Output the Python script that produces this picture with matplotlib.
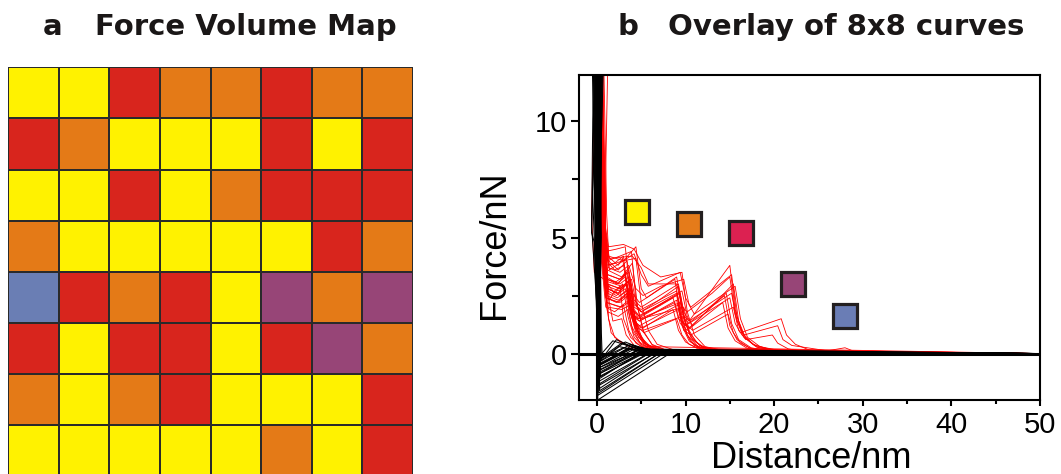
import matplotlib
matplotlib.use("Agg")
import matplotlib.pyplot as plt
from matplotlib.colors import ListedColormap
import numpy as np

# force volume map: 0 yellow, 1 orange, 2 red, 3 purple, 4 blue
map_colors = ["#FFF200", "#E47A17", "#D8251D", "#974577", "#6A7EB4"]
fv_map = [
    [0, 0, 2, 1, 1, 2, 1, 1],
    [2, 1, 0, 0, 0, 2, 0, 2],
    [0, 0, 2, 0, 1, 2, 2, 2],
    [1, 0, 0, 0, 0, 0, 2, 1],
    [4, 2, 1, 2, 0, 3, 1, 3],
    [2, 0, 2, 2, 0, 2, 3, 1],
    [1, 0, 1, 2, 0, 0, 0, 2],
    [0, 0, 0, 0, 0, 1, 0, 2],
]

# legend squares in panel b (x nm, y nN)
key_x = [4.5, 10.4, 16.3, 22.1, 28.0]
key_y = [6.1, 5.6, 5.2, 3.0, 1.6]
key_colors = ["#FFF200", "#E57B1A", "#DC2151", "#974577", "#6A7DB5"]

# approach curves (black), (distance nm, force nN)
approach = [
    [(0.1, 12), (0.0, 6), (0.2, 1.2), (0.3, -0.6), (4.5, 0.1), (8, 0.03), (50, 0)],
    [(-0.2, 12), (-0.1, 7), (0.1, 1.5), (0.2, -1.0), (5.5, 0.05), (50, 0)],
    [(0.3, 12), (0.2, 6), (0.3, 1.0), (0.4, -0.4), (3.5, 0.2), (6, 0.05), (50, 0)],
    [(-0.4, 12), (-0.5, 9), (-0.6, 5.5), (0.0, 2.0), (0.1, -1.4), (6.5, 0.0), (50, 0)],
    [(0.5, 12), (0.3, 7), (0.4, 1.4), (0.5, -0.3), (2.5, 0.3), (5, 0.1), (50, 0)],
    [(0.0, 12), (-0.2, 8), (0.0, 2.2), (0.1, -2.0), (8, -0.05), (12, 0), (50, 0)],
    [(0.2, 12), (0.1, 6.5), (0.2, 1.8), (0.3, -0.8), (5.0, 0.1), (50, 0)],
    [(-0.3, 12), (-0.4, 10), (-0.2, 6), (0.1, 1.2), (0.2, -0.5), (4.0, 0.35), (6.5, 0.1), (50, 0)],
    [(0.6, 12), (0.4, 6), (0.3, 1.0), (0.4, -0.2), (3.0, 0.25), (6, 0.05), (50, 0)],
    [(0.1, 12), (-0.1, 5.0), (0.1, 1.5), (0.2, -1.2), (6.0, 0.05), (50, 0)],
    [(-0.1, 12), (0.0, 7.5), (0.2, 1.6), (0.3, -0.7), (4.8, 0.2), (7, 0.05), (50, 0)],
    [(0.4, 12), (0.3, 8), (0.2, 2.0), (0.3, -1.6), (7.0, 0.0), (50, 0)],
    [(0.0, 12), (0.1, 6), (0.2, 0.8), (0.3, -0.35), (3.8, 0.4), (6.0, 0.15), (9, 0.03), (50, 0)],
    [(-0.5, 12), (-0.3, 9), (-0.6, 5.2), (-0.3, 4.8), (0.0, 1.4), (0.1, -0.9), (5.5, 0.1), (50, 0)],
    [(0.3, 12), (0.1, 7), (0.2, 1.3), (0.3, -0.5), (4.2, 0.3), (7, 0.06), (50, 0)],
    [(0.2, 12), (0.2, 6), (0.1, 1.8), (0.2, -1.1), (5.2, 0.12), (50, 0)],
    [(-0.2, 12), (-0.1, 6), (0.1, 1.0), (0.2, -0.25), (2.8, 0.45), (5.5, 0.1), (50, 0)],
    [(0.7, 12), (0.4, 8), (0.3, 1.6), (0.4, -0.7), (4.6, 0.05), (50, 0)],
    [(0.0, 12), (-0.1, 6), (0.0, 2.0), (0.1, -1.8), (7.6, 0.02), (50, 0)],
    [(0.1, 12), (0.2, 7), (0.3, 1.1), (0.4, -0.45), (3.6, 0.2), (6, 0.05), (50, 0)],
    [(-0.3, 12), (-0.2, 7), (0.0, 1.6), (0.2, -0.9), (5.0, 0.25), (8, 0.05), (50, 0)],
    [(0.2, 12), (0.0, 5.5), (0.2, 1.3), (0.3, -0.6), (4.0, 0.15), (50, 0)],
    [(0.5, 12), (0.3, 6), (0.2, 1.7), (0.3, -1.3), (6.2, 0.08), (50, 0)],
    [(-0.1, 12), (0.1, 8), (0.1, 1.2), (0.2, -0.3), (3.2, 0.5), (5.6, 0.12), (50, 0)],
    [(0.4, 12), (0.5, 9), (0.4, 4), (0.5, 0.9), (0.6, -0.2), (2.2, 0.6), (4.5, 0.2), (50, 0)],
    [(-0.4, 12), (-0.2, 10.5), (-0.5, 7), (-0.1, 3), (0.1, 0.5), (0.2, -1.7), (7.2, 0.05), (50, 0)],
    [(0.6, 12), (0.3, 9.5), (0.5, 5), (0.3, 1.4), (0.4, -1.0), (5.8, 0.18), (50, 0)],
    [(-0.2, 12), (0.1, 9), (-0.1, 4), (0.0, 1.0), (0.1, -0.55), (4.4, 0.3), (7, 0.04), (50, 0)],
    [(0.2, 12), (0.4, 8.5), (0.1, 3.5), (0.2, 0.6), (0.3, -1.5), (6.8, 0.1), (50, 0)],
    [(0.0, 12), (-0.3, 8), (-0.2, 4.5), (0.1, 1.1), (0.2, -0.15), (1.8, 0.55), (5.0, 0.15), (50, 0)],
]

# retraction curves (red): one, two, three rupture events and longer ones
retract_one = [
    [(0.4, 12), (0.7, 6.0), (1.0, 4.4), (2.2, 4.5), (3.2, 4.6), (3.8, 2.4), (4.6, 1.0), (5.6, 0.4), (7.5, 0.15), (12, 0.05), (50, 0)],
    [(0.3, 12), (0.6, 5.5), (1.0, 3.8), (2.0, 3.9), (3.0, 4.2), (3.6, 2.0), (4.4, 0.9), (5.4, 0.35), (7, 0.12), (12, 0.04), (50, 0)],
    [(0.5, 12), (0.8, 5.0), (1.1, 3.3), (2.4, 3.0), (3.4, 3.5), (4.0, 1.8), (4.8, 0.8), (5.8, 0.3), (7.5, 0.1), (50, 0)],
    [(0.2, 12), (0.6, 5.2), (1.2, 3.0), (2.0, 2.6), (2.9, 3.0), (3.5, 1.6), (4.2, 0.7), (5.2, 0.3), (7, 0.1), (50, 0)],
    [(0.4, 12), (0.9, 4.6), (1.3, 2.8), (2.6, 2.5), (3.6, 2.8), (4.2, 1.4), (5.0, 0.6), (6.0, 0.25), (8, 0.08), (50, 0)],
    [(0.3, 12), (0.7, 4.2), (1.1, 2.4), (2.2, 2.2), (3.3, 2.5), (3.9, 1.2), (4.8, 0.5), (6.0, 0.2), (8, 0.06), (50, 0)],
    [(0.6, 12), (0.9, 4.8), (1.2, 3.6), (2.8, 3.3), (4.0, 3.9), (4.6, 2.0), (5.3, 0.9), (6.3, 0.35), (8, 0.12), (50, 0)],
    [(0.2, 12), (0.5, 4.0), (1.0, 2.0), (2.0, 1.8), (3.0, 2.1), (3.6, 1.0), (4.4, 0.45), (5.6, 0.18), (8, 0.05), (50, 0)],
    [(0.4, 12), (0.8, 5.8), (1.2, 4.2), (2.4, 3.8), (2.9, 4.1), (3.5, 2.5), (4.3, 1.1), (5.3, 0.45), (7, 0.15), (50, 0)],
    [(0.5, 12), (0.8, 4.4), (1.2, 2.9), (2.5, 2.7), (3.7, 3.2), (4.3, 1.5), (5.1, 0.65), (6.2, 0.25), (8.5, 0.08), (50, 0)],
    [(0.3, 12), (0.7, 3.6), (1.2, 1.8), (2.4, 1.6), (3.5, 1.9), (4.1, 0.9), (5.0, 0.4), (6.2, 0.15), (50, 0)],
    [(0.6, 12), (1.0, 5.0), (1.3, 3.9), (2.0, 3.6), (3.1, 3.8), (3.7, 2.2), (4.5, 1.0), (5.5, 0.4), (7.5, 0.12), (50, 0)],
    [(1.2, 12), (1.0, 8), (0.9, 5.2), (1.2, 4.0), (2.6, 4.2), (3.9, 4.4), (4.4, 2.3), (5.2, 1.0), (6.2, 0.4), (8, 0.12), (50, 0)],
    [(0.3, 12), (-0.4, 9.5), (-0.6, 6), (-0.3, 3.5), (0.8, 3.2), (2.2, 3.1), (3.2, 3.4), (3.8, 1.7), (4.7, 0.7), (5.8, 0.3), (50, 0)],
    [(0.6, 12), (0.9, 5.5), (1.1, 2.0), (1.6, 0.9), (2.6, 0.5), (4, 0.25), (6, 0.1), (50, 0)],
    [(0.7, 12), (1.0, 4.8), (1.3, 1.5), (2.0, 0.7), (3.4, 0.35), (5.5, 0.12), (50, 0)],
    [(0.5, 12), (0.8, 5.2), (1.2, 2.6), (1.8, 1.4), (2.8, 1.5), (3.3, 0.8), (4.2, 0.35), (6, 0.1), (50, 0)],
    [(0.8, 12), (1.1, 6.0), (1.4, 3.6), (3.0, 4.0), (4.4, 4.1), (5.0, 2.2), (5.8, 1.0), (6.8, 0.4), (9, 0.12), (50, 0)],
    [(0.6, 12), (1.0, 4.0), (1.4, 2.3), (2.0, 2.7), (2.6, 2.9), (3.0, 1.5), (3.8, 0.7), (5.0, 0.3), (7, 0.08), (50, 0)],
]
retract_two = [
    [(0.4, 12), (0.8, 5.0), (1.2, 3.4), (2.6, 3.2), (3.6, 3.6), (4.2, 2.2), (5.0, 1.8), (7.0, 2.3), (9.2, 2.9), (9.8, 1.5), (10.6, 0.7), (11.8, 0.3), (14, 0.1), (50, 0)],
    [(0.3, 12), (0.7, 4.4), (1.1, 2.8), (2.4, 2.6), (3.4, 3.0), (4.0, 1.7), (4.8, 1.4), (9.0, 2.3), (9.6, 1.2), (10.4, 0.55), (11.6, 0.22), (14, 0.08), (50, 0)],
    [(0.5, 12), (0.9, 5.6), (1.3, 4.6), (3.0, 4.7), (4.2, 4.5), (5.2, 3.8), (7.2, 3.3), (9.6, 3.5), (10.2, 1.8), (11.0, 0.8), (12.2, 0.3), (15, 0.08), (50, 0)],
    [(0.2, 12), (0.6, 4.0), (1.0, 2.4), (2.6, 2.2), (3.8, 2.6), (4.4, 1.3), (5.2, 1.1), (8.6, 1.9), (9.2, 1.0), (10.0, 0.5), (11.4, 0.2), (50, 0)],
    [(0.4, 12), (0.8, 4.8), (1.2, 3.2), (2.2, 3.0), (3.2, 3.3), (3.8, 2.0), (4.6, 1.6), (9.4, 2.6), (10.0, 1.3), (10.8, 0.6), (12.0, 0.25), (14.5, 0.08), (50, 0)],
    [(0.3, 12), (0.7, 3.8), (1.1, 2.2), (2.8, 2.0), (3.9, 2.3), (4.5, 1.2), (5.3, 0.9), (9.0, 1.5), (9.6, 0.8), (10.4, 0.4), (12, 0.15), (50, 0)],
    [(0.5, 12), (0.9, 5.2), (1.3, 4.0), (2.4, 3.6), (3.4, 4.0), (4.0, 2.6), (4.8, 2.2), (8.8, 3.2), (9.4, 1.7), (10.2, 0.8), (11.4, 0.3), (14, 0.1), (50, 0)],
    [(0.3, 12), (0.7, 4.6), (1.1, 3.0), (2.6, 2.8), (3.6, 3.1), (4.2, 1.9), (5.0, 1.5), (9.8, 2.0), (10.4, 1.0), (11.2, 0.5), (12.4, 0.2), (50, 0)],
    [(0.4, 12), (0.8, 4.2), (1.2, 2.6), (2.3, 2.4), (3.4, 2.7), (4.0, 1.5), (4.8, 1.2), (9.2, 2.1), (9.8, 1.1), (10.6, 0.5), (12, 0.2), (50, 0)],
    [(0.5, 12), (0.9, 4.9), (1.3, 3.8), (3.0, 4.0), (4.4, 4.6), (5.0, 2.8), (5.6, 2.4), (9.0, 3.3), (9.6, 1.9), (10.4, 0.9), (11.6, 0.35), (14, 0.1), (50, 0)],
    [(0.4, 12), (0.8, 3.6), (1.2, 2.0), (2.8, 1.9), (3.8, 2.1), (4.4, 1.1), (5.2, 1.0), (9.6, 1.6), (10.2, 0.8), (11.0, 0.35), (13, 0.1), (50, 0)],
]
retract_three = [
    [(0.4, 12), (0.8, 5.0), (1.2, 3.4), (2.6, 3.2), (3.6, 3.5), (4.2, 2.3), (5.0, 2.0), (9.2, 3.0), (9.8, 1.8), (10.4, 1.4), (15.0, 3.8), (15.6, 1.9), (16.4, 0.9), (17.6, 0.4), (20, 0.12), (25, 0.04), (50, 0)],
    [(0.3, 12), (0.7, 4.4), (1.1, 2.8), (2.4, 2.6), (3.4, 3.0), (4.0, 1.9), (4.8, 1.6), (9.0, 2.5), (9.6, 1.4), (10.4, 1.1), (14.6, 2.6), (15.2, 1.3), (16.0, 0.6), (17.4, 0.25), (20, 0.08), (50, 0)],
    [(0.5, 12), (0.9, 5.4), (1.3, 4.2), (3.0, 4.0), (4.2, 4.3), (5.0, 3.4), (5.8, 2.9), (9.4, 3.5), (10.0, 2.4), (10.6, 2.0), (15.2, 3.4), (15.8, 1.6), (16.6, 0.7), (18, 0.28), (21, 0.08), (50, 0)],
    [(0.2, 12), (0.6, 4.0), (1.0, 2.4), (2.4, 2.2), (3.4, 2.6), (4.0, 1.6), (4.8, 1.4), (8.8, 2.2), (9.4, 1.3), (10.2, 1.0), (14.2, 2.2), (14.8, 1.1), (15.6, 0.55), (17, 0.22), (20, 0.07), (50, 0)],
    [(0.4, 12), (0.8, 4.7), (1.2, 3.1), (2.8, 2.9), (3.9, 3.2), (4.5, 2.0), (5.3, 1.7), (9.6, 2.7), (10.2, 1.6), (10.8, 1.2), (15.4, 3.0), (16.0, 1.4), (16.8, 0.65), (18.2, 0.26), (21, 0.08), (50, 0)],
    [(0.3, 12), (0.7, 3.9), (1.1, 2.2), (2.6, 2.0), (3.6, 2.3), (4.2, 1.3), (5.0, 1.1), (9.2, 1.9), (9.8, 1.0), (10.6, 0.8), (14.8, 1.7), (15.4, 0.9), (16.2, 0.45), (17.6, 0.18), (50, 0)],
    [(0.5, 12), (0.9, 5.0), (1.3, 3.7), (2.6, 3.5), (3.6, 3.8), (4.4, 2.8), (5.2, 2.5), (7.2, 2.9), (9.8, 3.2), (10.4, 2.1), (11.0, 1.7), (15.6, 2.9), (16.2, 1.5), (17.0, 0.7), (18.4, 0.3), (21, 0.1), (50, 0)],
    [(0.4, 12), (0.8, 4.3), (1.2, 2.7), (2.2, 2.5), (3.2, 2.8), (3.8, 1.8), (4.6, 1.5), (8.6, 2.4), (9.2, 1.5), (10.0, 1.2), (14.4, 2.5), (15.0, 1.2), (15.8, 0.6), (17.2, 0.24), (20, 0.08), (50, 0)],
    [(0.6, 12), (1.0, 5.2), (1.4, 4.1), (4.0, 4.2), (5.0, 3.7), (5.8, 3.0), (9.0, 3.0), (9.6, 2.0), (10.2, 1.8), (13.0, 2.6), (15.0, 3.3), (15.6, 1.7), (16.4, 0.8), (17.8, 0.35), (20.5, 0.1), (50, 0)],
]
retract_long = [
    [(0.4, 12), (0.8, 4.5), (1.2, 3.0), (2.6, 2.8), (3.6, 3.1), (4.2, 2.0), (5.0, 1.8), (9.0, 2.6), (9.6, 1.6), (10.4, 1.3), (15.0, 2.4), (15.6, 1.3), (16.2, 0.9), (20.8, 1.5), (21.4, 0.8), (22.4, 0.4), (24, 0.15), (27, 0.05), (50, 0)],
    [(0.3, 12), (0.7, 4.0), (1.1, 2.5), (2.4, 2.3), (3.4, 2.6), (4.0, 1.7), (4.8, 1.5), (9.4, 2.2), (10.0, 1.3), (10.8, 1.0), (15.4, 2.0), (16.0, 1.0), (16.8, 0.6), (19.8, 0.8), (20.4, 0.45), (21.6, 0.2), (24, 0.06), (50, 0)],
    [(0.4, 12), (0.8, 4.6), (1.2, 3.2), (2.6, 3.0), (3.6, 3.3), (4.2, 2.1), (5.0, 1.9), (9.0, 2.7), (9.6, 1.7), (10.4, 1.4), (15.2, 2.6), (15.8, 1.4), (16.6, 0.8), (20.4, 1.2), (21.0, 0.6), (22, 0.35), (26, 0.12), (28, 0.25), (29, 0.1), (32, 0.03), (50, 0)],
]

fig = plt.figure(figsize=(10.61, 4.74), dpi=100)

# ---- panel a ----
ax1 = fig.add_axes([8 / 1061, -0.005, 405 / 1061, 409 / 474])
ax1.pcolormesh(np.array(fv_map), cmap=ListedColormap(map_colors), vmin=-0.5, vmax=4.5,
               edgecolors="#2a2a2a", linewidth=1.2)
ax1.set_xlim(0, 8)
ax1.set_ylim(8, 0)
ax1.axis("off")

# ---- panel b ----
font = ["Liberation Sans", "DejaVu Sans"]
ax2 = fig.add_axes([579.2 / 1061, 74 / 474, 460.7 / 1061, 325 / 474])
for group in (retract_one, retract_two, retract_three, retract_long):
    for c in group:
        xs, ys = zip(*c)
        ax2.plot(xs, ys, color="red", lw=0.6, zorder=2)
for c in approach:
    xs, ys = zip(*c)
    ax2.plot(xs, ys, color="black", lw=0.75, zorder=3)
ax2.axhline(0, color="black", lw=2.2, zorder=4)
ax2.axvline(0, color="black", lw=1.5, zorder=1)
for x, y, c in zip(key_x, key_y, key_colors):
    ax2.plot(x, y, "s", ms=17, mfc=c, mec="#231F20", mew=2.3, zorder=5)

ax2.set_xlim(-2, 50)
ax2.set_ylim(-2, 12)
ax2.set_xticks([0, 10, 20, 30, 40, 50])
ax2.set_xticks([5, 15, 25, 35, 45], minor=True)
ax2.set_yticks([0, 5, 10])
ax2.set_yticks([2.5, 7.5], minor=True)
for s in ax2.spines.values():
    s.set_linewidth(1.5)
ax2.tick_params(axis="x", which="major", direction="out", length=4, width=1.5, labelsize=21, pad=4)
ax2.tick_params(axis="y", which="major", direction="out", length=6, width=1.5, labelsize=21, pad=3)
ax2.tick_params(axis="x", which="minor", direction="out", length=3, width=1.5)
ax2.tick_params(axis="y", which="minor", direction="out", length=5, width=1.5)
for lab in ax2.get_xticklabels() + ax2.get_yticklabels():
    lab.set_family(font)
ax2.set_xlabel("Distance/nm", fontsize=26, family=font)
ax2.xaxis.set_label_coords(0.503, -0.125)
ax2.set_ylabel("Force/nN", fontsize=26, family=font)
ax2.yaxis.set_label_coords(-0.1465, 0.477)

# ---- titles ----
tkw = dict(fontsize=21, fontweight="bold", va="baseline", color="#1a1717")
fig.text(43 / 1061, 1 - 35 / 474, "a", **tkw)
fig.text(95 / 1061, 1 - 35 / 474, "Force Volume Map", **tkw)
fig.text(618 / 1061, 1 - 35 / 474, "b", **tkw)
fig.text(668 / 1061, 1 - 35 / 474, "Overlay of 8x8 curves", **tkw)

fig.savefig("out.png", dpi=100)
